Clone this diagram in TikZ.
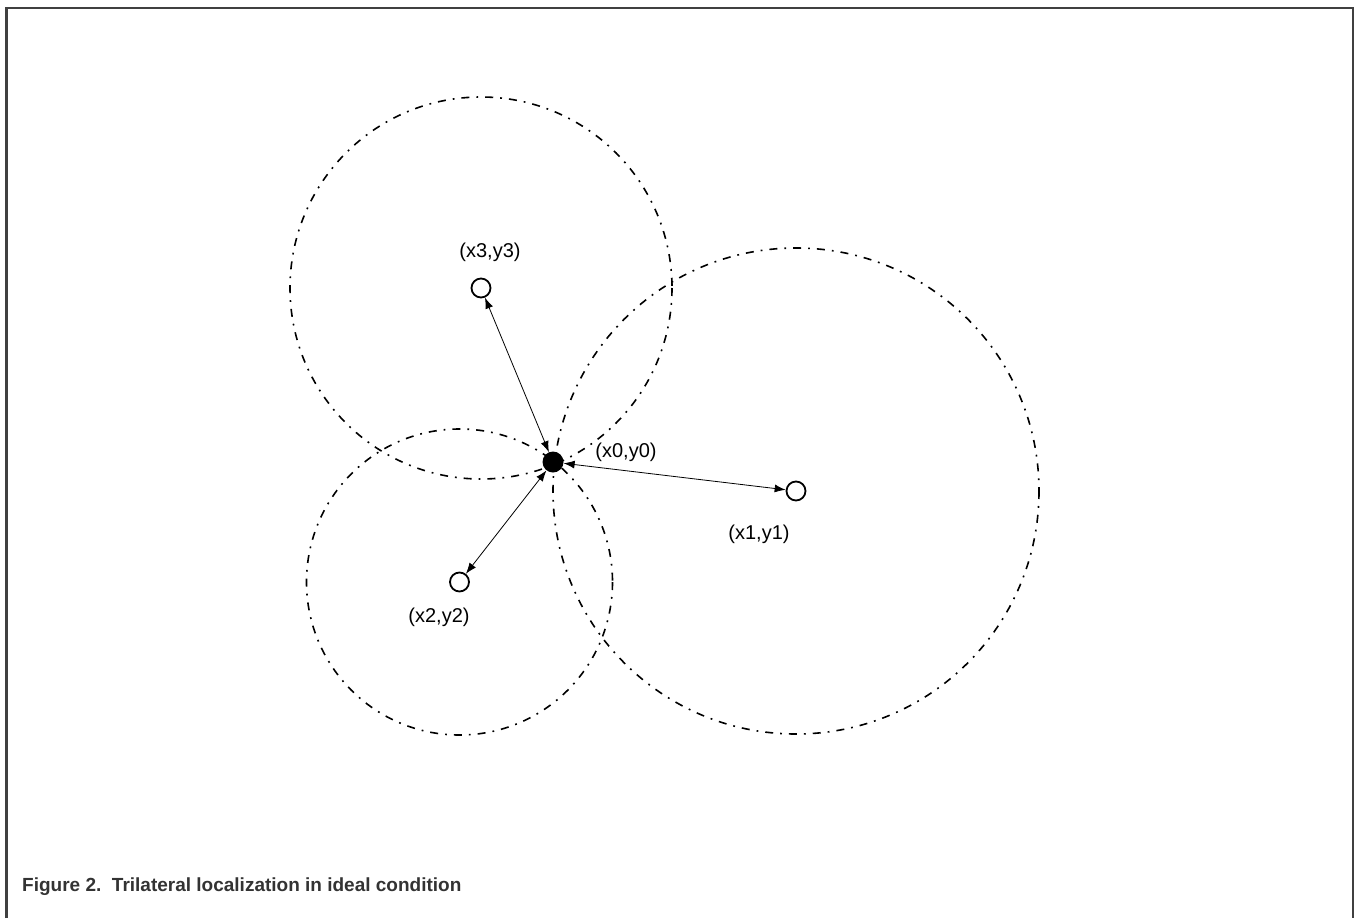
\documentclass[tikz,border=0pt]{standalone}
\usepackage{fontspec}
\setmainfont{Liberation Sans}
\usetikzlibrary{arrows.meta}
\definecolor{frame}{HTML}{404040}
\definecolor{txt}{HTML}{333333}
\begin{document}
\begin{tikzpicture}[x=1pt,y=-1pt,
  rangering/.style={line width=1.6pt, dash pattern=on 8pt off 7pt on 1.8pt off 7pt},
  anchorpt/.style={circle, draw, line width=1.8pt, minimum size=19pt, inner sep=0pt},
  target/.style={circle, fill=black, minimum size=21pt, inner sep=0pt},
  lbl/.style={font=\fontsize{20}{22}\selectfont, inner sep=0pt},
  link/.style={line width=0.8pt, {Latex[length=11pt,width=8pt]}-{Latex[length=11pt,width=8pt]}}]
\useasboundingbox (0,0) rectangle (1354,918);
% frame
\draw[frame, line width=2.5pt] (6.3,918) -- (6.3,8) -- (1353,8) -- (1353,918);
% range circles
\draw[rangering] (481,288) circle (191);
\draw[rangering] (796,491) circle (243);
\draw[rangering] (459.5,582) circle (153);
% nodes
\node[target] (p0) at (553,462) {};
\node[anchorpt] (p1) at (796,491) {};
\node[anchorpt] (p2) at (459.5,582) {};
\node[anchorpt] (p3) at (481,288) {};
% connectors
\draw[link] (p0) -- (p1);
\draw[link] (p0) -- (p2);
\draw[link] (p0) -- (p3);
% labels
\node[lbl] (l3) at (490,252) {(x3,y3)};
\node[lbl] (l0) at (626,452) {(x0,y0)};
\node[lbl] (l1) at (759,534) {(x1,y1)};
\node[lbl] (l2) at (439,617) {(x2,y2)};
% caption
\node[anchor=base west, inner sep=0pt, text=txt, font=\bfseries\fontsize{19}{22}\selectfont] (cap) at (22,891) {Figure 2.\ \ Trilateral localization in ideal condition};
\end{tikzpicture}
\end{document}
